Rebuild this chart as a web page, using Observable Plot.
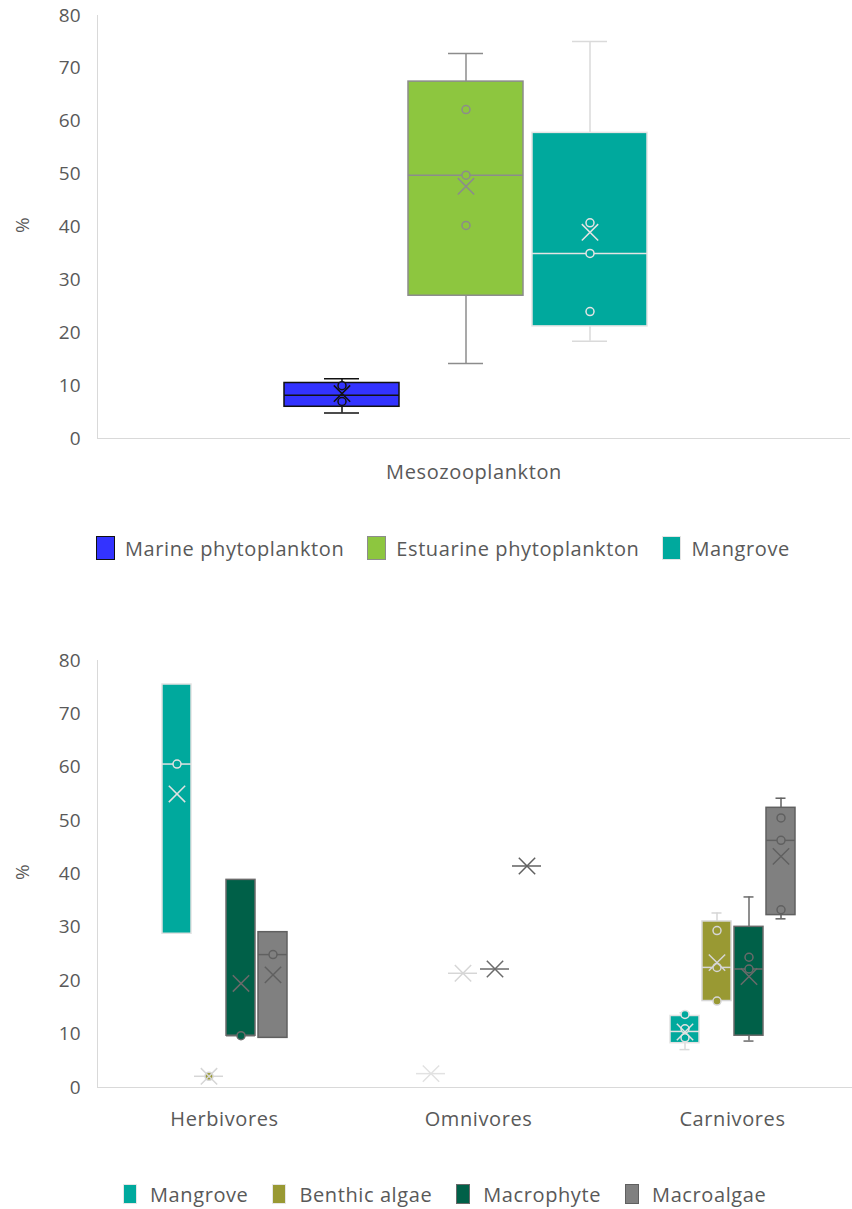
<!DOCTYPE html>
<html>
<head>
<meta charset="utf-8">
<script src="https://cdn.jsdelivr.net/npm/d3@7"></script>
<script src="https://cdn.jsdelivr.net/npm/@observablehq/plot@0.6"></script>
<style>
  html, body { margin: 0; padding: 0; background: #fff; }
  body { width: 852px; height: 1209px; overflow: hidden; position: relative; font-family: "Open Sans", sans-serif; color: #595959; }
  .chart { position: absolute; left: 0; }
  .legend { position: absolute; display: flex; align-items: center; font-size: 20px; letter-spacing: 0.6px; color: #595959; white-space: nowrap; }
  .legend .item { display: flex; align-items: center; }
  .legend .swatch { box-sizing: border-box; display: inline-block; }
  .wide { letter-spacing: 0.6px; }
</style>
</head>
<body>
<div id="chart1" class="chart" style="top:0"></div>
<div id="legend1" class="legend" style="top:536px; left:96px; height:24px; gap:23px"></div>
<div id="chart2" class="chart" style="top:640px"></div>
<div id="legend2" class="legend" style="top:1182px; left:123px; height:24px; gap:24px"></div>
<script>
// ---- shared axis ----
const yTicks = [0, 10, 20, 30, 40, 50, 60, 70, 80];

// ---- Mesozooplankton: diet sources (box statistics, %) ----
const topCategory = "Mesozooplankton";
const topSources = ["Marine phytoplankton", "Estuarine phytoplankton", "Mangrove"];
const topMin    = [4.8, 14.2, 18.4];
const topQ1     = [6.0, 27.0, 21.2];
const topMedian = [8.2, 49.8, 35.0];
const topQ3     = [10.5, 67.5, 57.8];
const topMax    = [11.3, 72.8, 75.1];
const topMean   = [8.5, 47.7, 39.0];
const topPoints = [[10.0, 7.0], [62.2, 49.8, 40.3], [40.8, 35.0, 24.0]];
const topFill    = ["#3333ff", "#8dc63f", "#00a99d"];
const topStroke  = ["#111111", "#8c8c8c", "#e4e4e4"];
const topWhisker = ["#111111", "#8c8c8c", "#dadada"];

// ---- Trophic groups: diet sources (box statistics, %) ----
const groups = ["Herbivores", "Omnivores", "Carnivores"];
const sources = ["Mangrove", "Benthic algae", "Macrophyte", "Macroalgae"];
// rows: group, columns: source
const grpMin    = [[28.8, 2.1, 9.7, 9.3], [2.6, 21.4, 22.2, 41.5], [7.1, 16.2, 8.7, 31.6]];
const grpQ1     = [[28.8, 2.1, 9.7, 9.3], [2.6, 21.4, 22.2, 41.5], [8.3, 16.2, 9.7, 32.3]];
const grpMedian = [[60.6, 2.1, 9.7, 24.9], [2.6, 21.4, 22.2, 41.5], [10.5, 22.5, 22.2, 46.3]];
const grpQ3     = [[75.5, 2.1, 38.9, 29.1], [2.6, 21.4, 22.2, 41.5], [13.4, 31.1, 30.1, 52.4]];
const grpMax    = [[75.5, 2.1, 38.9, 29.1], [2.6, 21.4, 22.2, 41.5], [14.0, 32.7, 35.7, 54.2]];
const grpMean   = [[55.0, 2.1, 19.5, 21.1], [2.6, 21.4, 22.2, 41.5], [10.4, 23.4, 20.8, 43.3]];
const grpPoints = [
  [[60.6], [2.1], [9.7], [24.9]],
  [[], [], [], []],
  [[13.7, 11.0, 9.3], [29.4, 22.5, 16.2], [24.4, 22.2], [50.5, 46.3, 33.3]]
];
const srcFill    = ["#00a99d", "#999933", "#006048", "#808080"];
const srcStroke  = ["#e2e2e2", "#d6d6d6", "#6a6a6a", "#606060"];
const srcWhisker = ["#dadada", "#d6d6d6", "#6a6a6a", "#606060"];

const textColor = "#595959";
const axisColor = "#d9d9d9";
const font = "'Open Sans', sans-serif";

// ---- build tables ----
const topRows = topSources.map((s, i) => ({
  source: s, min: topMin[i], q1: topQ1[i], median: topMedian[i], q3: topQ3[i], max: topMax[i], mean: topMean[i],
  fill: topFill[i], stroke: topStroke[i], whisker: topWhisker[i]
}));
const topPointRows = topRows.flatMap((r, i) => topPoints[i].map(v => ({...r, value: v})));

const grpRows = groups.flatMap((g, gi) => sources.map((s, si) => ({
  group: g, source: s,
  min: grpMin[gi][si], q1: grpQ1[gi][si], median: grpMedian[gi][si], q3: grpQ3[gi][si],
  max: grpMax[gi][si], mean: grpMean[gi][si],
  fill: srcFill[si], stroke: srcStroke[si], whisker: srcWhisker[si]
})));
const grpPointRows = grpRows.flatMap((r, k) => grpPoints[Math.floor(k / sources.length)][k % sources.length].map(v => ({...r, value: v})));

// box-and-whisker marks shared by both charts
function boxMarks(rows, pointRows, capInset, facet) {
  const fx = facet ? {fx: "group"} : {};
  return [
    Plot.ruleX(rows.filter(d => d.max > d.q3), {...fx, x: "source", y1: "q3", y2: "max", stroke: "whisker", strokeWidth: 1.5}),
    Plot.ruleX(rows.filter(d => d.min < d.q1), {...fx, x: "source", y1: "min", y2: "q1", stroke: "whisker", strokeWidth: 1.5}),
    Plot.tickY(rows.filter(d => d.max > d.q3), {...fx, x: "source", y: "max", stroke: "whisker", strokeWidth: 1.5, insetLeft: capInset, insetRight: capInset}),
    Plot.tickY(rows.filter(d => d.min < d.q1), {...fx, x: "source", y: "min", stroke: "whisker", strokeWidth: 1.5, insetLeft: capInset, insetRight: capInset}),
    Plot.barY(rows, {...fx, x: "source", y1: "q1", y2: "q3", fill: "fill", stroke: "stroke", strokeWidth: 1.5}),
    Plot.tickY(rows, {...fx, x: "source", y: "median", stroke: "stroke", strokeWidth: 1.5}),
    Plot.dot(pointRows, {...fx, x: "source", y: "value", r: 4, fill: "fill", stroke: "stroke", strokeWidth: 1.5}),
    Plot.dot(rows, {...fx, x: "source", y: "mean", symbol: "times", r: 7.5, stroke: "stroke", strokeWidth: 1.5})
  ];
}

// ---- chart 1 ----
const chart1 = Plot.plot({
  width: 852, height: 485,
  marginTop: 15, marginBottom: 47, marginLeft: 97, marginRight: 2,
  style: {fontFamily: font, fontSize: "19px", color: textColor, background: "#fff"},
  x: {type: "band", domain: topSources, range: [283, 647], paddingInner: 0.076, paddingOuter: 0, axis: null},
  y: {domain: [0, 80], axis: null},
  color: {type: "identity"},
  marks: [
    Plot.axisY({ticks: yTicks, tickSize: 0, tickPadding: 17, label: null, fontSize: 19, fill: textColor}),
    Plot.frame({anchor: "left", stroke: axisColor}),
    Plot.ruleY([0], {stroke: axisColor}),
    ...boxMarks(topRows, topPointRows, 40, false),
    Plot.text(["%"], {text: d => d, frameAnchor: "left", dx: -75, dy: 6, rotate: -90, fontSize: 19, fill: textColor}),
    Plot.text([topCategory], {text: d => d, frameAnchor: "bottom", dy: 40, fontSize: 20, fill: textColor, className: "wide"})
  ]
});
document.getElementById("chart1").append(chart1);

// ---- chart 2 ----
const chart2 = Plot.plot({
  width: 852, height: 492,
  marginTop: 20, marginBottom: 45, marginLeft: 97, marginRight: 2,
  style: {fontFamily: font, fontSize: "19px", color: textColor, background: "#fff"},
  fx: {domain: groups, range: [97, 859], padding: 0, label: null, axis: null},
  x: {domain: sources, paddingInner: 0.094, paddingOuter: 2.0, axis: null},
  y: {domain: [0, 80], axis: null},
  color: {type: "identity"},
  marks: [
    Plot.axisFx({tickSize: 0, tickPadding: 24, label: null, fontSize: 20, fill: textColor, anchor: "bottom", className: "wide"}),
    Plot.axisY({ticks: yTicks, tickSize: 0, tickPadding: 17, label: null, fontSize: 19, fill: textColor}),
    Plot.frame({anchor: "left", facetAnchor: "left", stroke: axisColor}),
    Plot.ruleY([0], {stroke: axisColor}),
    ...boxMarks(grpRows, grpPointRows, 9.5, true),
    Plot.text(["%"], {text: d => d, frameAnchor: "left", facetAnchor: "left", dx: -75, dy: 6, rotate: -90, fontSize: 19, fill: textColor})
  ]
});
document.getElementById("chart2").append(chart2);

// ---- legends ----
function legend(el, names, fills, strokes, w, h, gap) {
  const box = document.getElementById(el);
  names.forEach((n, i) => {
    const item = document.createElement("div");
    item.className = "item";
    item.style.gap = gap + "px";
    const sw = document.createElement("span");
    sw.className = "swatch";
    sw.style.width = w + "px";
    sw.style.height = h + "px";
    sw.style.background = fills[i];
    sw.style.border = "1.5px solid " + strokes[i];
    const t = document.createElement("span");
    t.textContent = n;
    item.append(sw, t);
    box.append(item);
  });
}
legend("legend1", topSources, topFill, topStroke, 19, 24, 10);
legend("legend2", sources, srcFill, srcStroke.map((c, i) => i < 2 ? "#e6e6e6" : c), 14, 20, 13);
</script>
</body>
</html>
